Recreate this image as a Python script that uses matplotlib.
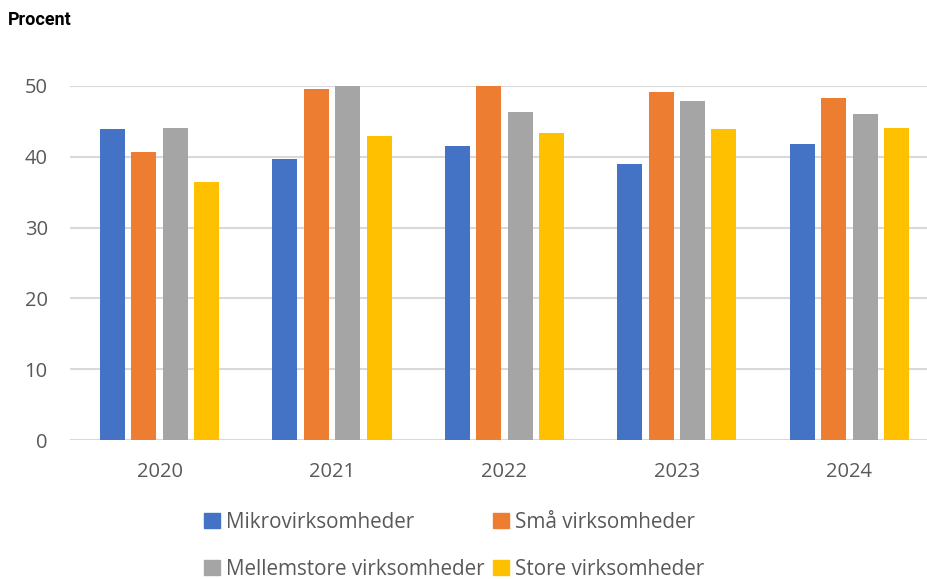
import numpy as np
import matplotlib.pyplot as plt
from matplotlib.patches import Patch

aar = ["2020", "2021", "2022", "2023", "2024"]
mikro = [43.9, 39.7, 41.5, 39.0, 41.8]
smaa = [40.7, 49.6, 50.0, 49.2, 48.3]
mellem = [44.1, 50.0, 46.3, 47.9, 46.0]
store = [36.4, 42.9, 43.4, 43.9, 44.1]
navne = ["Mikrovirksomheder", "Små virksomheder", "Mellemstore virksomheder", "Store virksomheder"]
farver = ["#4472C4", "#ED7D31", "#A5A5A5", "#FFC000"]

plt.rcParams['font.family'] = ['Open Sans', 'DejaVu Sans']

fig = plt.figure(figsize=(9.27, 5.79), dpi=100)
ax = fig.add_axes([0.0755, 0.240, 0.93, 0.6115])

x = np.arange(len(aar))
serier = [mikro, smaa, mellem, store]
offs = [-0.273, -0.091, 0.091, 0.273]
for s, o, f in zip(serier, offs, farver):
    ax.bar(x + o, s, width=0.145, color=f, zorder=3)

ax.set_xlim(-0.52, 4.48)
ax.set_ylim(0, 50)
ax.set_yticks([0, 10, 20, 30, 40, 50])
ax.set_xticks(x)
ax.set_xticklabels(aar)
ax.grid(axis="y", color="#d9d9d9", linewidth=1.5, zorder=0)
ax.tick_params(length=0, labelsize=14.5, colors="#595959")
ax.tick_params(axis="y", pad=16)
ax.tick_params(axis="x", pad=16)
for sp in ax.spines.values():
    sp.set_visible(False)

fig.text(0.008, 0.965, "Procent", fontsize=13, fontweight="bold", family=["Roboto", "DejaVu Sans"], va="center")

# matplotlib fylder kolonnevis, saa raekkefoelgen byttes
orden = [0, 2, 1, 3]
handles = [Patch(color=farver[i]) for i in orden]
labels = [navne[i] for i in orden]
fig.legend(handles, labels, ncol=2, loc="center", bbox_to_anchor=(0.49, 0.057),
           frameon=False, fontsize=14.9, labelcolor="#595959", handlelength=0.75,
           handleheight=0.75, handletextpad=0.3, columnspacing=0.4, labelspacing=1.25)

fig.savefig("out.png", dpi=100)
